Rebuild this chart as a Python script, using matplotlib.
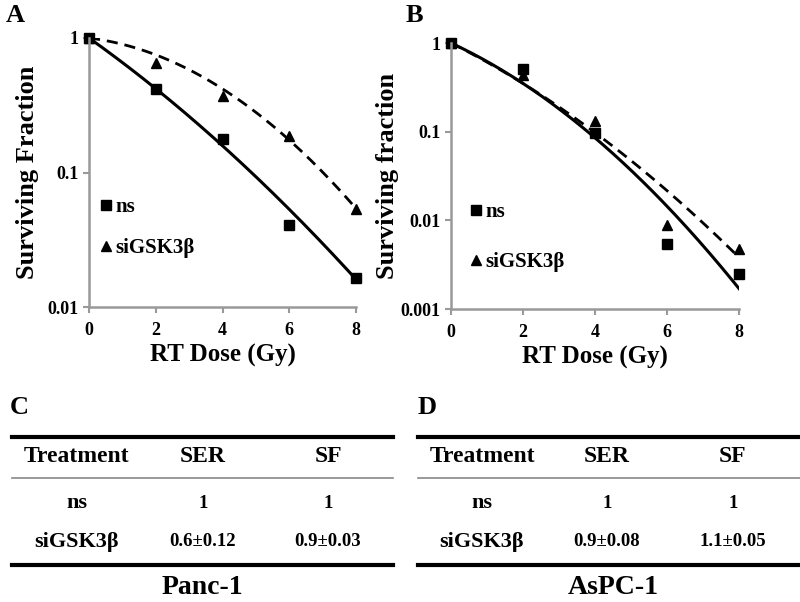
import numpy as np
import matplotlib.pyplot as plt
from matplotlib.lines import Line2D

plt.rcParams['font.family'] = ['Liberation Serif', 'DejaVu Serif']
plt.rcParams['font.weight'] = 'bold'

# data
dose = [0, 2, 4, 6, 8]
a_ns = [1, 0.42, 0.177, 0.041, 0.0164]
a_si = [1, 0.65, 0.37, 0.187, 0.0535]
b_ns = [1, 0.51, 0.097, 0.0054, 0.0025]
b_si = [1, 0.44, 0.132, 0.0089, 0.0047]

# linear-quadratic fit parameters (alpha, beta)
fit_a_ns = (0.406, 0.0138)
fit_a_si = (0.0704, 0.0368)
fit_b_ns = (0.434, 0.0454)
fit_b_si = (0.468, 0.0285)

# tables
tab_cols = ['Treatment', 'SER', 'SF']
tab_c = [['ns', '1', '1'], ['siGSK3\u03b2', '0.6\u00b10.12', '0.9\u00b10.03']]
tab_d = [['ns', '1', '1'], ['siGSK3\u03b2', '0.9\u00b10.08', '1.1\u00b10.05']]

W, H = 800, 602
fig = plt.figure(figsize=(8, 6.02), dpi=100)


def fx(x):
    return x / W


def fy(y):
    return 1 - y / H


def lq(params, d):
    a, b = params
    return np.exp(-(a * d + b * d ** 2))


def survival_panel(rect, ns, si, fit_ns, fit_si, ylim, yticks, ylabels, ylab, ylabpad, leg_xy, leg_gap):
    ax = fig.add_axes(rect)
    d = np.linspace(0, 8, 200)
    ax.plot(d, lq(fit_ns, d), color='black', lw=2.2)
    ax.plot(d, lq(fit_si, d), color='black', lw=2.0, ls=(0, (4, 2.5)))
    ax.plot(dose, ns, 's', color='black', ms=7, clip_on=False, label='ns')
    ax.plot(dose, si, '^', color='black', ms=7.5, clip_on=False, label='siGSK3\u03b2')
    ax.set_yscale('log')
    ax.set_xlim(0, 8)
    ax.set_ylim(*ylim)
    ax.set_xticks([0, 2, 4, 6, 8])
    ax.set_yticks(yticks)
    ax.set_yticklabels(ylabels)
    ax.minorticks_off()
    for s in ['top', 'right']:
        ax.spines[s].set_visible(False)
    for s in ['left', 'bottom']:
        ax.spines[s].set_color('#999999')
        ax.spines[s].set_linewidth(1.8)
    ax.tick_params(colors='#999999', width=1.5, length=4, labelsize=13, labelcolor='black')
    ax.tick_params(axis='x', pad=7)
    ax.set_xlabel('RT Dose (Gy)', fontsize=18, fontweight='bold', labelpad=3)
    ax.set_ylabel(ylab, fontsize=19, fontweight='bold', labelpad=ylabpad)
    ax.legend(loc='upper left', bbox_to_anchor=(fx(leg_xy[0]), fy(leg_xy[1])),
              bbox_transform=fig.transFigure, frameon=False, fontsize=15,
              handlelength=0.5, handletextpad=0.2, borderpad=0, borderaxespad=0,
              labelspacing=leg_gap)
    return ax


survival_panel([fx(89), fy(307), fx(356 - 89), 269 / H], a_ns, a_si, fit_a_ns, fit_a_si,
               (0.01, 1), [0.01, 0.1, 1], ['0.01', '0.1', '1'], 'Surviving Fraction', 6,
               (101, 197), 1.0)
survival_panel([fx(451), fy(309), fx(739 - 451), 266 / H], b_ns, b_si, fit_b_ns, fit_b_si,
               (0.001, 1), [0.001, 0.01, 0.1, 1], ['0.001', '0.01', '0.1', '1'], 'Surviving fraction', 1,
               (471, 202), 1.45)

fig.text(fx(6), fy(15), 'A', fontsize=19, fontweight='bold', va='center')
fig.text(fx(406), fy(15), 'B', fontsize=19, fontweight='bold', va='center')


def draw_table(label, lx, x0, x1, col_x, rows, name, name_x, value_size):
    fig.text(fx(lx), fy(408), label, fontsize=19, fontweight='bold', va='center')
    fig.add_artist(Line2D([fx(x0), fx(x1)], [fy(437), fy(437)], color='black', lw=3))
    fig.add_artist(Line2D([fx(x0), fx(x1)], [fy(478), fy(478)], color='#888888', lw=1.2))
    fig.add_artist(Line2D([fx(x0), fx(x1)], [fy(565), fy(565)], color='black', lw=3))
    for x, t in zip(col_x, tab_cols):
        fig.text(fx(x), fy(457), t, fontsize=17, fontweight='bold', ha='center', va='center')
    for y, row in zip([503, 542], rows):
        for j, (x, t) in enumerate(zip(col_x, row)):
            size = 16 if j == 0 else value_size
            fig.text(fx(x), fy(y), t, fontsize=size, fontweight='bold', ha='center', va='center')
    fig.text(fx(name_x), fy(588), name, fontsize=20, fontweight='bold', ha='center', va='center')


draw_table('C', 10, 12, 393, [77, 203, 328], tab_c, 'Panc-1', 202, 13.5)
draw_table('D', 418, 418, 800, [482, 607, 733], tab_d, 'AsPC-1', 613, 13.5)

fig.savefig('out.png', dpi=100)
